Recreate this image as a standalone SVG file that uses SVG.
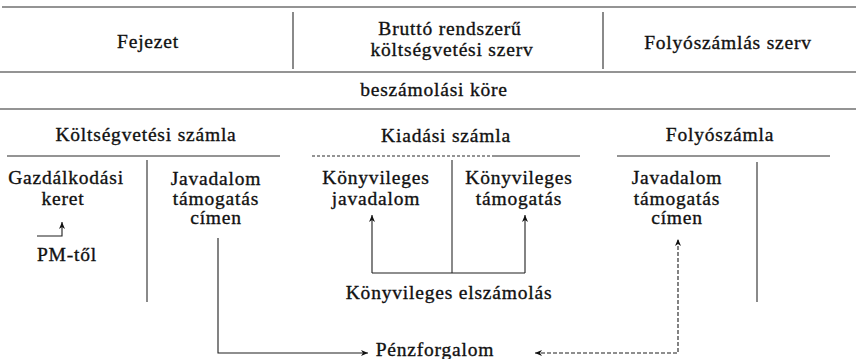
<svg xmlns="http://www.w3.org/2000/svg" width="856" height="359" viewBox="0 0 856 359">
<style>
  text { font-family: "Liberation Serif", "Times New Roman", serif; font-size: 19.5px; letter-spacing: 0.8px; fill: #111111; text-anchor: middle; stroke: #111111; stroke-width: 0.35px; }
  .rule { stroke: #2a2a2a; stroke-width: 1.1; fill: none; }
  .dot { stroke: #2a2a2a; stroke-width: 1.1; fill: none; stroke-dasharray: 3 2; }
  .conn { stroke: #1e1e1e; stroke-width: 1.1; fill: none; }
  .dash { stroke: #1e1e1e; stroke-width: 1.1; fill: none; stroke-dasharray: 4 2; }
</style>
<defs>
  <marker id="ah" viewBox="-8 -4 9 8" refX="0" refY="0" markerWidth="9" markerHeight="8" markerUnits="userSpaceOnUse" orient="auto-start-reverse">
    <path d="M0,0 L-7,-3 L-5,0 L-7,3 Z" fill="#111"/>
  </marker>
</defs>
<rect width="856" height="359" fill="#ffffff"/>

<g id="grid">
  <line class="rule" x1="2" y1="7" x2="856" y2="7"/>
  <line class="rule" x1="293" y1="12" x2="293" y2="69"/>
  <line class="rule" x1="603" y1="12" x2="603" y2="69"/>
  <line class="rule" x1="0" y1="72" x2="856" y2="72"/>
  <line class="rule" x1="0" y1="109" x2="856" y2="109"/>
  <line class="rule" x1="7" y1="156" x2="280" y2="156"/>
  <line class="dot" x1="312" y1="156" x2="495" y2="156"/>
  <line class="rule" x1="495" y1="156" x2="580" y2="156"/>
  <line class="rule" x1="617" y1="156" x2="830" y2="156"/>
  <line class="rule" x1="147" y1="160" x2="147" y2="302"/>
  <line class="rule" x1="452" y1="160" x2="452" y2="273"/>
  <line class="rule" x1="757" y1="162" x2="757" y2="302"/>
</g>

<g id="fejezet"><text x="148" y="48">Fejezet</text></g>
<g id="brutto"><text x="450" y="35">Bruttó rendszerű</text><text x="452" y="56">költségvetési szerv</text></g>
<g id="folyoszamlas-szerv"><text x="728" y="49">Folyószámlás szerv</text></g>
<g id="beszamolasi-kore"><text x="434" y="96">beszámolási köre</text></g>
<g id="koltsegvetesi-szamla"><text x="146" y="141">Költségvetési számla</text></g>
<g id="kiadasi-szamla"><text x="446" y="142">Kiadási számla</text></g>
<g id="folyoszamla"><text x="720" y="141">Folyószámla</text></g>
<g id="gazdalkodasi-keret"><text x="66" y="184">Gazdálkodási</text><text x="63" y="205">keret</text></g>
<g id="pm-tol"><text x="67" y="261">PM-től</text></g>
<g id="javadalom-ktgv"><text x="216" y="185">Javadalom</text><text x="216" y="205">támogatás</text><text x="216" y="224">címen</text></g>
<g id="konyvileges-javadalom"><text x="376" y="184">Könyvileges</text><text x="376" y="205">javadalom</text></g>
<g id="konyvileges-tamogatas"><text x="519" y="184">Könyvileges</text><text x="519" y="205">támogatás</text></g>
<g id="javadalom-folyo"><text x="677" y="184">Javadalom</text><text x="677" y="205">támogatás</text><text x="677" y="224">címen</text></g>
<g id="konyvileges-elszamolas"><text x="449" y="299">Könyvileges elszámolás</text></g>
<g id="penzforgalom"><text x="435" y="356">Pénzforgalom</text></g>

<g id="connectors">
  <path class="conn" d="M37,236 H62 V222" marker-end="url(#ah)"/>
  <path class="conn" d="M372,273 V215" marker-end="url(#ah)"/>
  <path class="conn" d="M525,273 V215" marker-end="url(#ah)"/>
  <path class="conn" d="M372,273 H525"/>
  <path class="conn" d="M218,238 V353 H368" marker-end="url(#ah)"/>
  <path class="dash" d="M535,353 H678 V239" marker-start="url(#ah)" marker-end="url(#ah)"/>
</g>
</svg>
